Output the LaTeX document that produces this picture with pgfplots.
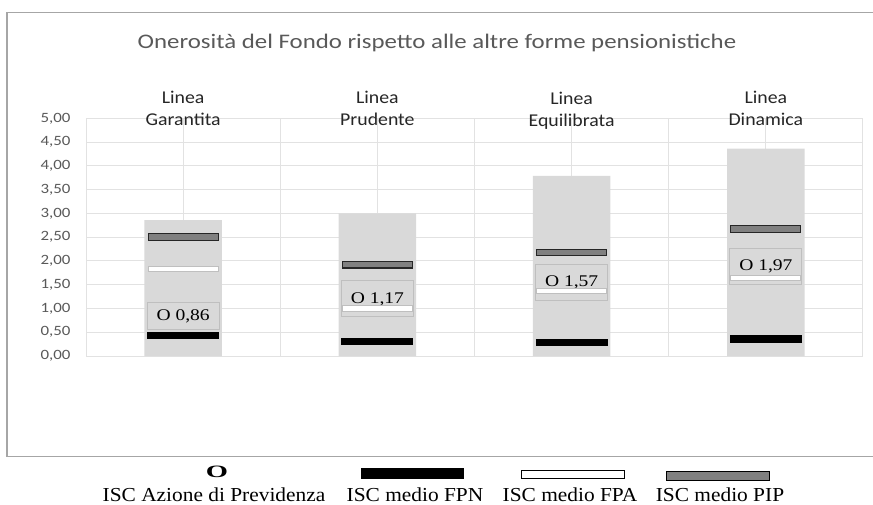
\documentclass[border=0pt]{standalone}
\usepackage{fontspec}
\setmainfont{Carlito}
\newfontfamily\titlefont[FakeStretch=1.2]{Carlito}
\newfontfamily\tickfont[FakeStretch=1.19]{Carlito}
\newfontfamily\catfont[FakeStretch=1.1]{Carlito}
\newfontfamily\boxfont[FakeStretch=1.2]{Liberation Serif}
\newfontfamily\legfont[FakeStretch=1.08]{Liberation Serif}
\usepackage{pgfplots}
\pgfplotsset{compat=1.18}
\definecolor{barfill}{HTML}{D9D9D9}
\definecolor{gridc}{HTML}{E2E2E2}
\definecolor{txtgray}{HTML}{595959}
\definecolor{pipgray}{HTML}{808080}
\definecolor{framec}{HTML}{A6A6A6}
\definecolor{boxc}{HTML}{BFBFBF}
\pgfdeclareplotmark{fpn}{\pgfpathrectangle{\pgfpoint{-36pt}{-3.7pt}}{\pgfpoint{72pt}{7.4pt}}\pgfusepathqfill}
\pgfdeclareplotmark{fpa}{\pgfpathrectangle{\pgfpoint{-35pt}{-2.8pt}}{\pgfpoint{70pt}{5.6pt}}\pgfusepathqfillstroke}
\pgfdeclareplotmark{pip}{\pgfpathrectangle{\pgfpoint{-35pt}{-3.3pt}}{\pgfpoint{70pt}{6.6pt}}\pgfusepathqfillstroke}
\begin{document}
\begin{tikzpicture}[x=1pt,y=1pt]
\useasboundingbox (0,0) rectangle (873,504);
\draw[framec, line width=1.3pt] (873,491.3) -- (7,491.3) -- (7,47.3) -- (873,47.3);
\node[font=\titlefont\fontsize{20.7}{24}\selectfont, text=txtgray] at (437,461) {Onerosità del Fondo rispetto alle altre forme pensionistiche};
\begin{axis}[
  at={(86pt,148pt)}, anchor=south west,
  scale only axis, width=777pt, height=237.7pt,
  xmin=0, xmax=8, ymin=0, ymax=5,
  xtick={0,1,2,3,4,5,6,7,8}, xticklabels={},
  ytick={0,0.5,1,1.5,2,2.5,3,3.5,4,4.5,5},
  grid=major, major grid style={draw=gridc, line width=1pt},
  axis line style={draw=none}, tick style={draw=none},
  /pgf/number format/assume math mode=true,
  yticklabel style={/pgf/number format/.cd, fixed, fixed zerofill, precision=2, use comma, /tikz/.cd,
     font=\tickfont\fontsize{14.2}{14.2}\selectfont, text=txtgray, inner sep=0pt, xshift=-15.3pt},
  clip=false,
]
\addplot[ybar, bar width=0.8, fill=barfill, draw=none] coordinates {(1,2.86) (3,3.00) (5,3.79) (7,4.36)};
\addplot[draw=none, mark=none, nodes near coords, point meta=explicit symbolic,
  nodes near coords style={anchor=center, font=\boxfont\fontsize{16.3}{16.3}\selectfont, draw=boxc, fill=barfill,
  minimum width=72pt, minimum height=27pt, inner sep=0pt, line width=1pt}]
  coordinates {(1,0.84) [O 0,86]};
\addplot[draw=none, mark=none, nodes near coords, point meta=explicit symbolic,
  nodes near coords style={anchor=center, font=\boxfont\fontsize{16.3}{16.3}\selectfont, draw=boxc, fill=barfill,
  minimum width=72pt, minimum height=36pt, inner sep=0pt, line width=1pt}]
  coordinates {(3,1.20) [O 1,17] (5,1.55) [O 1,57] (7,1.89) [O 1,97]};
\addplot[only marks, mark=fpn, fill=black, draw=none] coordinates {(1,0.43) (3,0.30) (5,0.28) (7,0.36)};
\addplot[only marks, mark=fpa, fill=white, draw=boxc, line width=1pt] coordinates {(1,1.83) (3,1.00) (5,1.37) (7,1.64)};
\addplot[only marks, mark=pip, fill=pipgray, draw=black!85, line width=1.1pt] coordinates {(1,2.50) (3,1.92) (5,2.18) (7,2.67)};
\begin{scope}[every node/.style={align=center, anchor=north, inner sep=0pt, font=\catfont\fontsize{18}{22}\selectfont, text=black!85}]
\node at (axis cs:1,5.58) {Linea\\Garantita};
\node at (axis cs:3,5.58) {Linea\\Prudente};
\node at (axis cs:5,5.56) {Linea\\Equilibrata};
\node at (axis cs:7,5.58) {Linea\\Dinamica};
\end{scope}
\end{axis}
% legend
\node[font=\legfont\fontsize{16.5}{16.5}\selectfont] at (217,32) {\scalebox{1.6}[1.05]{\bfseries O}};
\fill[black] (361,25) rectangle (464,36);
\draw[black, fill=white, line width=1pt] (521,26) rectangle (624,34);
\draw[black, fill=pipgray, line width=1pt] (666,24) rectangle (769,33);
\begin{scope}[every node/.style={anchor=base, inner sep=0pt, font=\legfont\fontsize{19.8}{19.8}\selectfont}]
\node at (214,3) {ISC Azione di Previdenza};
\node at (415,3) {ISC medio FPN};
\node at (570,3) {ISC medio FPA};
\node at (720,3) {ISC medio PIP};
\end{scope}
\end{tikzpicture}
\end{document}
